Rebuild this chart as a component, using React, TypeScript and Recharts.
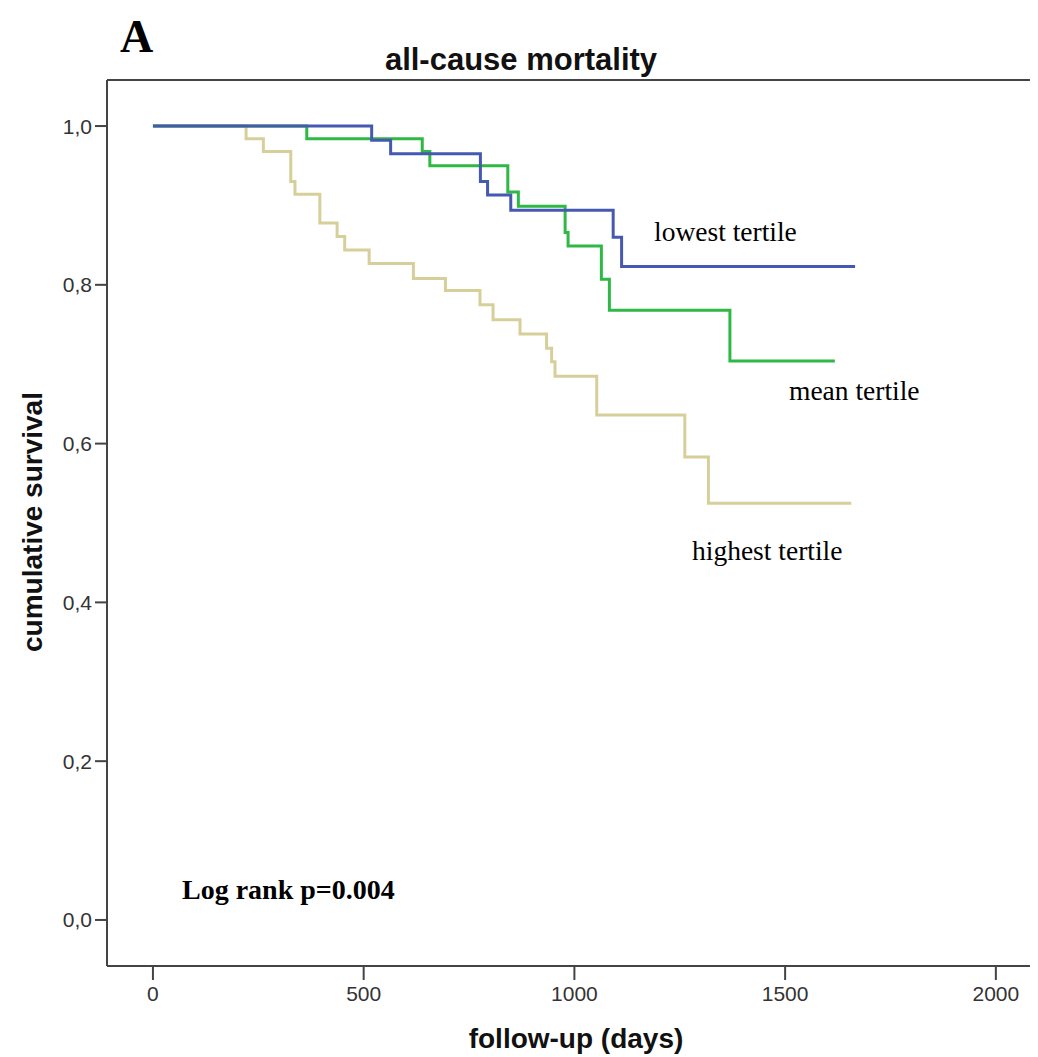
import React from "react";
import { LineChart, Line, XAxis, YAxis, ReferenceLine } from "recharts";

const lowestDays = [0, 519, 564, 777, 794, 849, 1092, 1112, 1666];
const lowestSurv = [1.0, 0.982, 0.965, 0.93, 0.913, 0.894, 0.86, 0.823, 0.823];

const meanDays = [0, 365, 639, 657, 842, 867, 978, 985, 1064, 1083, 1369, 1618];
const meanSurv = [1.0, 0.984, 0.968, 0.95, 0.917, 0.899, 0.866, 0.849, 0.807, 0.768, 0.704, 0.704];

const highestDays = [0, 221, 262, 327, 337, 396, 437, 455, 513, 618, 694, 776, 807, 871, 934, 946, 954, 1053, 1262, 1318, 1657];
const highestSurv = [1.0, 0.984, 0.968, 0.93, 0.914, 0.878, 0.861, 0.844, 0.827, 0.808, 0.793, 0.775, 0.756, 0.738, 0.72, 0.703, 0.685, 0.636, 0.583, 0.525, 0.525];

const xTicks = [0, 500, 1000, 1500, 2000];
const yTicks = [0, 0.2, 0.4, 0.6, 0.8, 1.0];

const toPoints = (days: number[], surv: number[]) => days.map((d, i) => ({ day: d, s: surv[i] }));

// chart is a bit wider than the page so the frame runs off the right edge like the original
const W = 1045;
const H = 1049;
const sans = "'Liberation Sans', Arial, sans-serif";
const serif = "'Liberation Serif', 'Times New Roman', serif";
const axisColor = "#444";

export default function App() {
  const tick = { fill: "#333", fontSize: 21, fontFamily: sans };
  return (
    <div style={{ position: "relative", width: 1030, height: H, overflowX: "clip" }}>
      <LineChart width={W} height={H} margin={{ top: 72, right: 0, bottom: 51, left: 39 }}>
        <XAxis
          type="number"
          dataKey="day"
          domain={[-109, 2135.6]}
          allowDataOverflow
          ticks={xTicks}
          tick={tick}
          tickSize={14}
          tickMargin={6}
          height={40}
          axisLine={{ stroke: axisColor, strokeWidth: 2 }}
          tickLine={{ stroke: axisColor, strokeWidth: 2 }}
        />
        <YAxis
          type="number"
          domain={[-0.058, 1.058]}
          allowDataOverflow
          ticks={yTicks}
          tickFormatter={(v: number) => v.toFixed(1).replace(".", ",")}
          tick={tick}
          tickSize={12}
          tickMargin={3}
          width={60}
          axisLine={{ stroke: axisColor, strokeWidth: 2 }}
          tickLine={{ stroke: axisColor, strokeWidth: 2 }}
        />
        <ReferenceLine y={1.058} stroke={axisColor} strokeWidth={2} />
        <Line data={toPoints(highestDays, highestSurv)} dataKey="s" type="stepAfter" stroke="#d6cf9a" strokeWidth={3} dot={false} isAnimationActive={false} />
        <Line data={toPoints(meanDays, meanSurv)} dataKey="s" type="stepAfter" stroke="#2fb844" strokeWidth={3} dot={false} isAnimationActive={false} />
        <Line data={toPoints(lowestDays, lowestSurv)} dataKey="s" type="stepAfter" stroke="#4659b0" strokeWidth={3} dot={false} isAnimationActive={false} />
      </LineChart>
      <svg width={1030} height={H} style={{ position: "absolute", left: 0, top: 0, pointerEvents: "none" }}>
        <text x={112} y={44} fontFamily={serif} fontWeight="bold" fontSize={46} fill="#000">A</text>
        <text x={513} y={62} textAnchor="middle" fontFamily={sans} fontWeight="bold" fontSize={31} fill="#111">all-cause mortality</text>
        <text transform="translate(34,514) rotate(-90)" textAnchor="middle" fontFamily={sans} fontWeight="bold" fontSize={28} fill="#111">cumulative survival</text>
        <text x={568} y={1040} textAnchor="middle" fontFamily={sans} fontWeight="bold" fontSize={28} fill="#111">follow-up (days)</text>
        <text x={646} y={233} fontFamily={serif} fontSize={27.5} fill="#000">lowest tertile</text>
        <text x={781} y={392} fontFamily={serif} fontSize={27.5} fill="#000">mean tertile</text>
        <text x={684} y={552} fontFamily={serif} fontSize={27.5} fill="#000">highest tertile</text>
        <text x={174} y={891} fontFamily={serif} fontWeight="bold" fontSize={28} fill="#000">Log rank p=0.004</text>
      </svg>
    </div>
  );
}
